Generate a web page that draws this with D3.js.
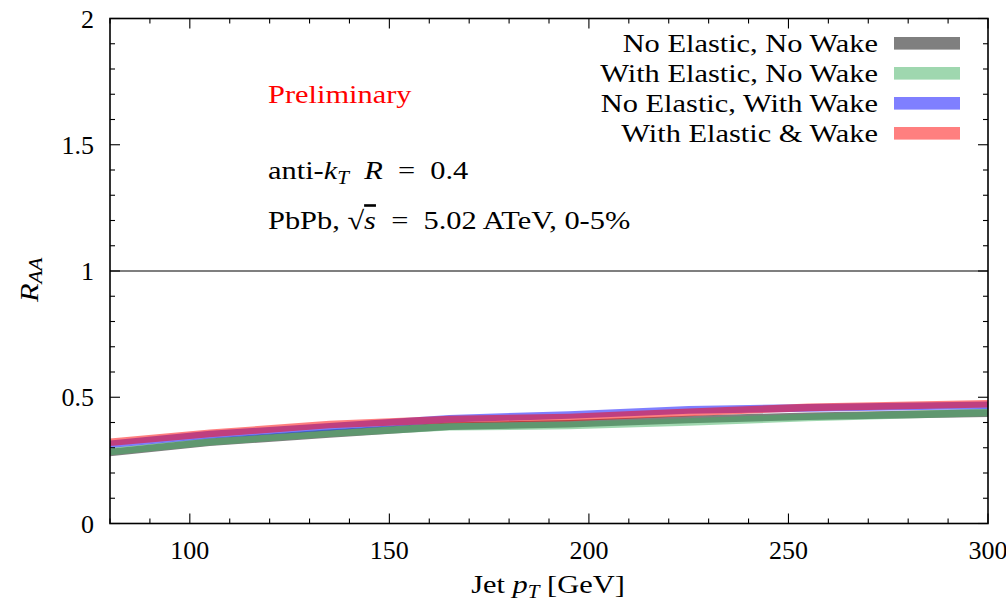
<!DOCTYPE html>
<html>
<head>
<meta charset="utf-8">
<script src="https://cdn.jsdelivr.net/npm/d3@7"></script>
<style>
  html, body { margin: 0; padding: 0; background: #fff; }
  svg text { font-family: "Liberation Serif", "Times New Roman", serif; fill: #000; }
</style>
</head>
<body>
<svg id="chart" width="1006" height="602"></svg>
<script>
// Jet pT points (GeV) at which each model is evaluated
const pT = [80, 105, 135, 165, 195, 225, 255, 300];

// Jet R_AA for the four medium-response settings
const noElasticNoWake     = [0.281, 0.322, 0.355, 0.385, 0.395, 0.412, 0.425, 0.437];
const withElasticNoWake   = [0.285, 0.324, 0.358, 0.383, 0.388, 0.402, 0.420, 0.440];
const noElasticWithWake   = [0.314, 0.352, 0.383, 0.415, 0.430, 0.450, 0.458, 0.468];
const withElasticAndWake  = [0.322, 0.357, 0.392, 0.412, 0.420, 0.440, 0.460, 0.474];

// half-width of each uncertainty band
const bandHalf = 0.015;

const seriesNames = ["No Elastic, No Wake", "With Elastic, No Wake", "No Elastic, With Wake", "With Elastic & Wake"];
const seriesColors = ["#000000", "#40b060", "#0000ff", "#ff0000"];
const seriesValues = [noElasticNoWake, withElasticNoWake, noElasticWithWake, withElasticAndWake];

const xTickValues = [100, 150, 200, 250, 300];
const yTickValues = [0, 0.5, 1, 1.5, 2];

const svg = d3.select("#chart");
const L = 110, R = 988, T = 18.5, B = 523.5;

const x = d3.scaleLinear().domain([80, 300]).range([L, R]);
const y = d3.scaleLinear().domain([0, 2]).range([B, T]);

const fs = 26;        // main font size
const sub = 18;       // subscript size
const stretch = 1.17; // widen serif text to a Computer-Modern-like set width

// text placed at (px, py), horizontally widened about its anchor
function wideText(px, py, anchor) {
  return svg.append("text")
    .attr("transform", `translate(${px},${py}) scale(${stretch},1)`)
    .attr("text-anchor", anchor || "start")
    .attr("font-size", fs);
}

// shaded bands
const area = d3.area()
  .x(d => x(d.x))
  .y0(d => y(d.v - bandHalf))
  .y1(d => y(d.v + bandHalf));

svg.append("clipPath").attr("id", "plotclip")
  .append("rect").attr("x", L).attr("y", T).attr("width", R - L).attr("height", B - T);

const bands = svg.append("g").attr("clip-path", "url(#plotclip)");
seriesValues.forEach((vals, i) => {
  bands.append("path")
    .datum(pT.map((p, j) => ({ x: p, v: vals[j] })))
    .attr("d", area)
    .attr("fill", seriesColors[i])
    .attr("fill-opacity", 0.5);
});

// reference line at R_AA = 1
svg.append("line")
  .attr("x1", L).attr("x2", R)
  .attr("y1", y(1)).attr("y2", y(1))
  .attr("stroke", "#000").attr("stroke-width", 1.2);

// ticks on all four sides, pointing inward
const ticks = svg.append("g").attr("stroke", "#000").attr("stroke-width", 1.1);
d3.range(80, 301, 10).forEach(v => {
  const len = (v % 50 === 0) ? 10 : 5;
  ticks.append("line").attr("x1", x(v)).attr("x2", x(v)).attr("y1", B).attr("y2", B - len);
  ticks.append("line").attr("x1", x(v)).attr("x2", x(v)).attr("y1", T).attr("y2", T + len);
});
d3.range(0, 21).forEach(k => {
  const v = k / 10;
  const len = (k % 5 === 0) ? 10 : 5;
  ticks.append("line").attr("x1", L).attr("x2", L + len).attr("y1", y(v)).attr("y2", y(v));
  ticks.append("line").attr("x1", R).attr("x2", R - len).attr("y1", y(v)).attr("y2", y(v));
});

// frame
svg.append("rect")
  .attr("x", L).attr("y", T).attr("width", R - L).attr("height", B - T)
  .attr("fill", "none").attr("stroke", "#000").attr("stroke-width", 1.6);

// tick labels
svg.append("g").selectAll("text").data(yTickValues).join("text")
  .attr("x", L - 16).attr("y", d => y(d) + 9)
  .attr("text-anchor", "end").attr("font-size", fs)
  .text(d => d);
svg.append("g").selectAll("text").data(xTickValues).join("text")
  .attr("x", d => x(d)).attr("y", 559)
  .attr("text-anchor", "middle").attr("font-size", fs)
  .text(d => d);

// axis titles
const xt = wideText(548, 593, "middle");
xt.append("tspan").text("Jet ");
xt.append("tspan").attr("font-style", "italic").text("p");
xt.append("tspan").attr("font-style", "italic").attr("font-size", sub).attr("dy", 5).text("T");
xt.append("tspan").attr("dy", -5).text(" [GeV]");

const yt = svg.append("text").attr("transform", `translate(38,302) rotate(-90) scale(${stretch},1)`)
  .attr("font-size", fs);
yt.append("tspan").attr("font-style", "italic").text("R");
yt.append("tspan").attr("font-style", "italic").attr("font-size", sub).attr("dy", 4).text("AA");

// annotations
wideText(268, 103).style("fill", "#ff0000").text("Preliminary");

const a1 = wideText(268, 179);
a1.append("tspan").text("anti-");
a1.append("tspan").attr("font-style", "italic").text("k");
a1.append("tspan").attr("font-style", "italic").attr("font-size", sub).attr("dy", 5).text("T");
a1.append("tspan").attr("dy", -5).attr("font-style", "italic").text("\u2002R");
a1.append("tspan").text("\u2002=\u20020.4");

const a2 = wideText(268, 229);
a2.append("tspan").text("PbPb, \u221A");
a2.append("tspan").attr("font-style", "italic").attr("text-decoration", "overline").text("s");
a2.append("tspan").text("\u2002=\u20025.02 ATeV, 0-5%");

// legend
seriesNames.forEach((name, i) => {
  const cy = 43.3 + i * 30;
  wideText(878, cy + 8.5, "end").text(name);
  svg.append("rect").attr("x", 894).attr("y", cy - 6.3).attr("width", 66).attr("height", 12.6)
    .attr("fill", seriesColors[i]).attr("fill-opacity", 0.5);
});
</script>
</body>
</html>
